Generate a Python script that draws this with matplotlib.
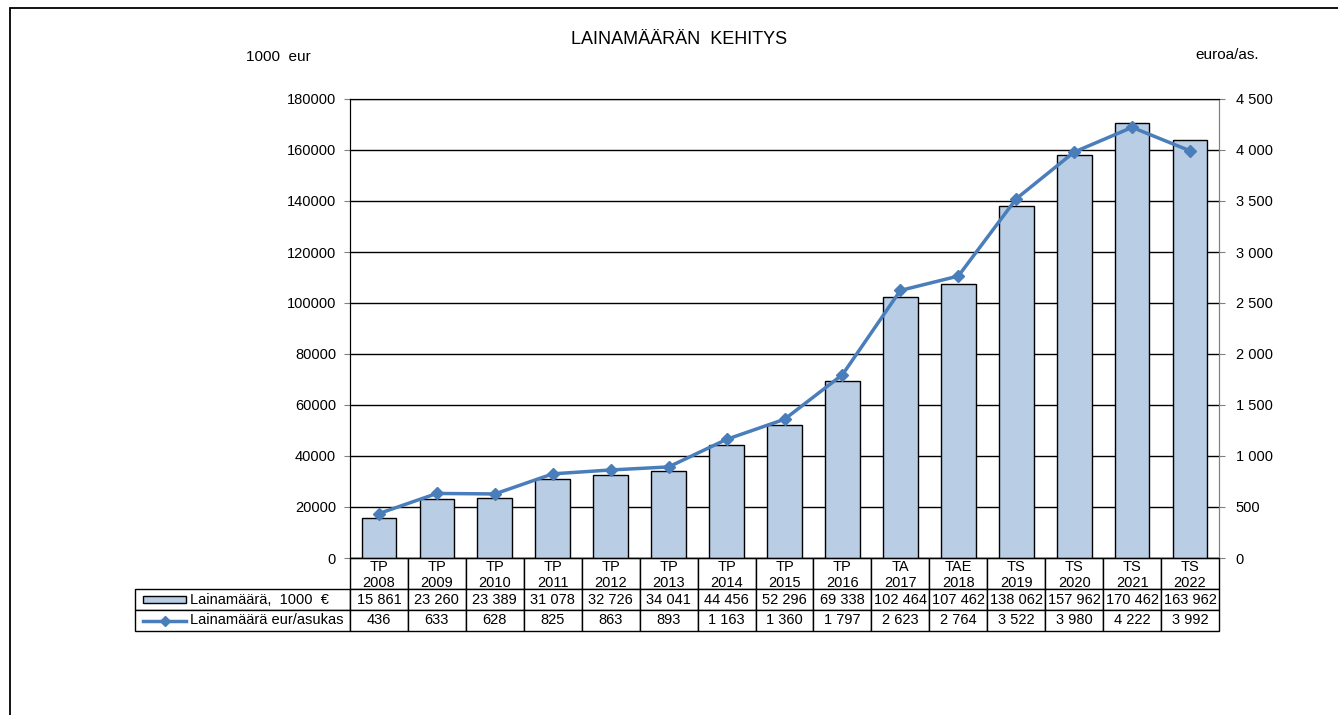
import matplotlib.pyplot as plt
from matplotlib.patches import Rectangle
from matplotlib.lines import Line2D
from matplotlib.transforms import blended_transform_factory

plt.rcParams['font.family'] = ['Liberation Sans', 'DejaVu Sans']

# data
kaudet = ["TP", "TP", "TP", "TP", "TP", "TP", "TP", "TP", "TP", "TA", "TAE", "TS", "TS", "TS", "TS"]
vuodet = [2008, 2009, 2010, 2011, 2012, 2013, 2014, 2015, 2016, 2017, 2018, 2019, 2020, 2021, 2022]
lainamaara = [15861, 23260, 23389, 31078, 32726, 34041, 44456, 52296, 69338,
              102464, 107462, 138062, 157962, 170462, 163962]
per_asukas = [436, 633, 628, 825, 863, 893, 1163, 1360, 1797,
              2623, 2764, 3522, 3980, 4222, 3992]

BAR_COL = "#B9CDE5"
LINE_COL = "#4A7EBB"


def fmt(v):
    return f"{v:,}".replace(",", " ")


W, H = 1338, 715
fig = plt.figure(figsize=(W / 100, H / 100), dpi=100)

# kuvan reunus
fig.patches.append(Rectangle((10 / W, -0.05), 1.1, 1 - 8 / H + 0.05, transform=fig.transFigure,
                             fill=False, edgecolor="black", linewidth=1.3))

ax_l, ax_r, ax_t, ax_b = 350, 1219, 99, 558
ax_hpx = ax_b - ax_t
ax = fig.add_axes([ax_l / W, 1 - ax_b / H, (ax_r - ax_l) / W, ax_hpx / H])
ax2 = ax.twinx()

x = list(range(len(vuodet)))
ax.bar(x, lainamaara, width=0.6, color=BAR_COL, edgecolor="black", linewidth=1.0, zorder=2)
ax.set_xlim(-0.5, len(x) - 0.5)
ax.set_ylim(0, 180000)
ax.set_yticks(range(0, 180001, 20000))
ax.set_yticklabels([str(v) for v in range(0, 180001, 20000)], fontsize=10.5)
ax.yaxis.grid(True, color="black", linewidth=1.0, zorder=0)
ax.set_axisbelow(True)
ax.set_xticks([])
ax.tick_params(axis="y", length=4, pad=6, color="#808080")

ax2.plot(x, per_asukas, color=LINE_COL, linewidth=2.5, marker="D", markersize=6.5, zorder=3)
ax2.set_ylim(0, 4500)
ax2.set_yticks(range(0, 4501, 500))
ax2.set_yticklabels([fmt(v) for v in range(0, 4501, 500)], fontsize=10.5)
ax2.tick_params(axis="y", length=4, pad=8, color="#808080")

for a in (ax, ax2):
    a.spines["left"].set_color("black")
    a.spines["top"].set_color("black")
    a.spines["bottom"].set_color("black")
    a.spines["right"].set_color("#808080")

# otsikot
fig.text(679 / W, 1 - 39 / H, "LAINAMÄÄRÄN  KEHITYS", ha="center", va="center", fontsize=13)
fig.text(278 / W, 1 - 57 / H, "1000  eur", ha="center", va="center", fontsize=11)
fig.text(1227 / W, 1 - 55 / H, "euroa/as.", ha="center", va="center", fontsize=11)

# taulukko
label_px = 215
w_ax = ax_r - ax_l
rows = [
    [""] * (len(x) + 1),
    ["Lainamäärä,  1000  €"] + [fmt(v) for v in lainamaara],
    ["Lainamäärä eur/asukas"] + [fmt(v) for v in per_asukas],
]
row_px = [31, 21, 21]
col_w = [label_px / w_ax] + [1 / len(x)] * len(x)
tab_h = sum(row_px) / ax_hpx
tab = ax.table(cellText=rows, colWidths=col_w, cellLoc="center",
               bbox=[-label_px / w_ax, -tab_h, 1 + label_px / w_ax, tab_h])
tab.auto_set_font_size(False)
tab.set_fontsize(10.5)
for (r, c), cell in tab.get_celld().items():
    cell.set_height(row_px[r])
    cell.set_linewidth(1.0)
    cell.set_edgecolor("black")
    if c == 0:
        cell.get_text().set_horizontalalignment("left")
        cell.PAD = 55 / label_px
        if r == 0:
            cell.visible_edges = "open"

# otsikkorivi (kausi + vuosi)
trans = blended_transform_factory(ax.transData, ax.transAxes)
for i, (k, v) in enumerate(zip(kaudet, vuodet)):
    ax.text(i, -17 / ax_hpx, f"{k}\n{v}", transform=trans, ha="center", va="center",
            fontsize=10.5, linespacing=1.15)

# selitesymbolit
y1 = -(row_px[0] + row_px[1] / 2) / ax_hpx
y2 = -(row_px[0] + row_px[1] + row_px[2] / 2) / ax_hpx
x0 = (143 - ax_l) / w_ax
x1 = (186 - ax_l) / w_ax
ax.add_patch(Rectangle((x0, y1 - 3.5 / ax_hpx), x1 - x0, 7 / ax_hpx,
                       transform=ax.transAxes, facecolor=BAR_COL, edgecolor="black",
                       linewidth=1.0, clip_on=False))
ax.add_line(Line2D([x0, (x0 + x1) / 2, x1], [y2, y2, y2], transform=ax.transAxes,
                   color=LINE_COL, linewidth=2.5, marker="D", markersize=5,
                   markevery=[1], clip_on=False))

fig.savefig("out.png", dpi=100)
